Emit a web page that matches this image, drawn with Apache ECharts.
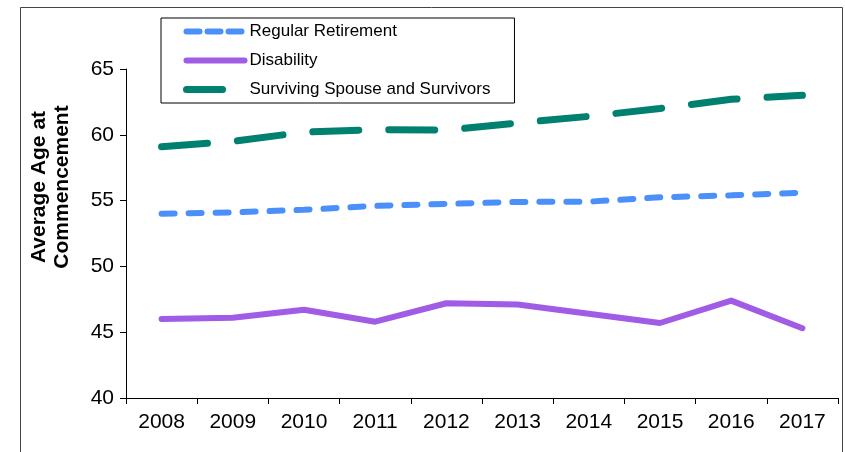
<!DOCTYPE html>
<html>
<head>
<meta charset="utf-8">
<script src="https://cdn.jsdelivr.net/npm/echarts@6/dist/echarts.min.js"></script>
<style>
  html, body { margin: 0; padding: 0; background: #fff; }
  #chart { width: 845px; height: 452px; }
</style>
</head>
<body>
<div id="chart"></div>
<script>
const years = ["2008", "2009", "2010", "2011", "2012", "2013", "2014", "2015", "2016", "2017"];
const regularRetirement = [54.0, 54.1, 54.3, 54.6, 54.75, 54.9, 54.92, 55.25, 55.4, 55.6];
const disability = [46.0, 46.1, 46.7, 45.8, 47.2, 47.1, 46.4, 45.7, 47.4, 45.3];
const survivors = [59.1, 59.5, 60.2, 60.4, 60.35, 60.9, 61.4, 62.0, 62.7, 63.0];
const yTicks = [40, 45, 50, 55, 60, 65];

const chart = echarts.init(document.getElementById("chart"));
const font = "Liberation Sans, Arial, sans-serif";

const blueLine = { width: 6, type: [13, 14], cap: "round", color: "#4a8ffa" };
const purpleLine = { width: 6, type: "solid", cap: "round", join: "round", color: "#a05ce4" };
const tealLine = { width: 7, type: [46, 30], cap: "round", color: "#00806e" };

chart.setOption({
  animation: false,
  backgroundColor: "#fff",
  textStyle: { fontFamily: font },
  grid: { left: 126, right: 7, top: 69, bottom: 54 },
  graphic: [
    {
      type: "rect",
      shape: { x: 20.5, y: 7.5, width: 822, height: 470 },
      style: { fill: "none", stroke: "#444", lineWidth: 1 },
      silent: true
    },
    {
      type: "text",
      x: 51,
      y: 187,
      rotation: Math.PI / 2,
      style: {
        text: "Average Age at\nCommencement",
        font: "bold 21px " + font,
        fill: "#000",
        align: "center",
        verticalAlign: "middle",
        lineHeight: 23
      }
    }
  ],
  legend: {
    orient: "vertical",
    left: 161,
    top: 18,
    padding: [5, 24, 5, 22],
    itemGap: 12,
    itemWidth: 58,
    itemHeight: 14,
    borderColor: "#000",
    borderWidth: 1,
    textStyle: { fontSize: 17, color: "#000", fontFamily: font },
    data: [
      { name: "Regular Retirement", itemStyle: { opacity: 0 }, lineStyle: { width: 6, type: [13, 8], cap: "round" } },
      { name: "Disability", itemStyle: { opacity: 0 }, lineStyle: { width: 6, cap: "round" } },
      { name: "Surviving Spouse and Survivors", itemStyle: { opacity: 0 }, lineStyle: { width: 7, type: [36, 40], cap: "round" } }
    ]
  },
  xAxis: {
    type: "category",
    data: years,
    boundaryGap: true,
    axisLine: { lineStyle: { color: "#000", width: 1 } },
    axisTick: { show: true, length: 6, lineStyle: { color: "#000" } },
    axisLabel: { fontSize: 21, color: "#000", margin: 14, fontFamily: font },
    splitLine: { show: false }
  },
  yAxis: {
    type: "value",
    min: yTicks[0],
    max: yTicks[yTicks.length - 1],
    interval: 5,
    axisLine: { show: true, lineStyle: { color: "#000", width: 1 } },
    axisTick: { show: true, length: 6, lineStyle: { color: "#000" } },
    axisLabel: { fontSize: 21, color: "#000", margin: 12, fontFamily: font },
    splitLine: { show: false }
  },
  series: [
    {
      name: "Regular Retirement",
      type: "line",
      data: regularRetirement,
      symbol: "none",
      color: "#4a8ffa",
      lineStyle: blueLine
    },
    {
      name: "Disability",
      type: "line",
      data: disability,
      symbol: "none",
      color: "#a05ce4",
      lineStyle: purpleLine
    },
    {
      name: "Surviving Spouse and Survivors",
      type: "line",
      data: survivors,
      symbol: "none",
      color: "#00806e",
      lineStyle: tealLine
    }
  ]
});
</script>
</body>
</html>
